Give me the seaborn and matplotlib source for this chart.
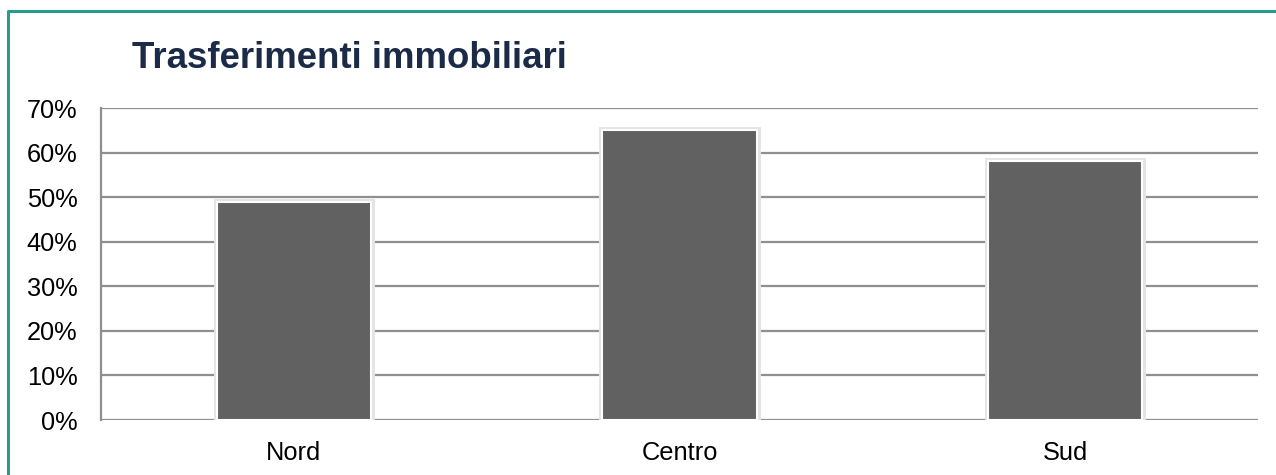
import matplotlib
matplotlib.use("Agg")
import matplotlib.pyplot as plt
import matplotlib.patheffects as pe
from matplotlib.lines import Line2D
from matplotlib.ticker import PercentFormatter
import pandas as pd
import seaborn as sns

regions = ["Nord", "Centro", "Sud"]
share = [0.49, 0.65, 0.58]
title = "Trasferimenti immobiliari"

df = pd.DataFrame({"regione": regions, "quota": share})

sns.set_style("white")
plt.rcParams["font.family"] = ["Liberation Sans", "DejaVu Sans"]

fig = plt.figure(figsize=(12.76, 4.75), dpi=100)
ax = fig.add_axes([101 / 1276, 1 - 420 / 475, 1157 / 1276, 312 / 475])

sns.barplot(data=df, x="regione", y="quota", color="#616161", saturation=1,
            width=0.40, edgecolor="white", linewidth=1.5, ax=ax, zorder=3)
for p in ax.patches:
    p.set_path_effects([pe.Stroke(linewidth=5, foreground="#e4e4e4"), pe.Normal()])

ax.set_ylim(0, 0.70)
ax.set_yticks([i / 10 for i in range(8)])
ax.yaxis.set_major_formatter(PercentFormatter(1.0, decimals=0))
ax.yaxis.grid(True, color="#8f8f8f", linewidth=1.6, zorder=0)
ax.set_axisbelow(True)
for s in ["top", "right", "bottom"]:
    ax.spines[s].set_visible(False)
ax.spines["left"].set_color("#8f8f8f")
ax.spines["left"].set_linewidth(1.6)
ax.tick_params(axis="y", length=0, pad=17, labelsize=18.3, labelcolor="black")
ax.tick_params(axis="x", length=0, pad=15, labelsize=18.3, labelcolor="black")
ax.set_xlabel("")
ax.set_ylabel("")

fig.text(132 / 1276, 1 - 58 / 475, title, fontsize=26.4, fontweight="bold",
         color="#1b2a47", va="center", ha="left")

# teal frame
fig.add_artist(Line2D([8 / 1276, 8 / 1276, 1.0], [0.0, 1 - 11 / 475, 1 - 11 / 475],
                      transform=fig.transFigure, color="#2a9a90", linewidth=2.2))

fig.savefig("out.png", dpi=100)
